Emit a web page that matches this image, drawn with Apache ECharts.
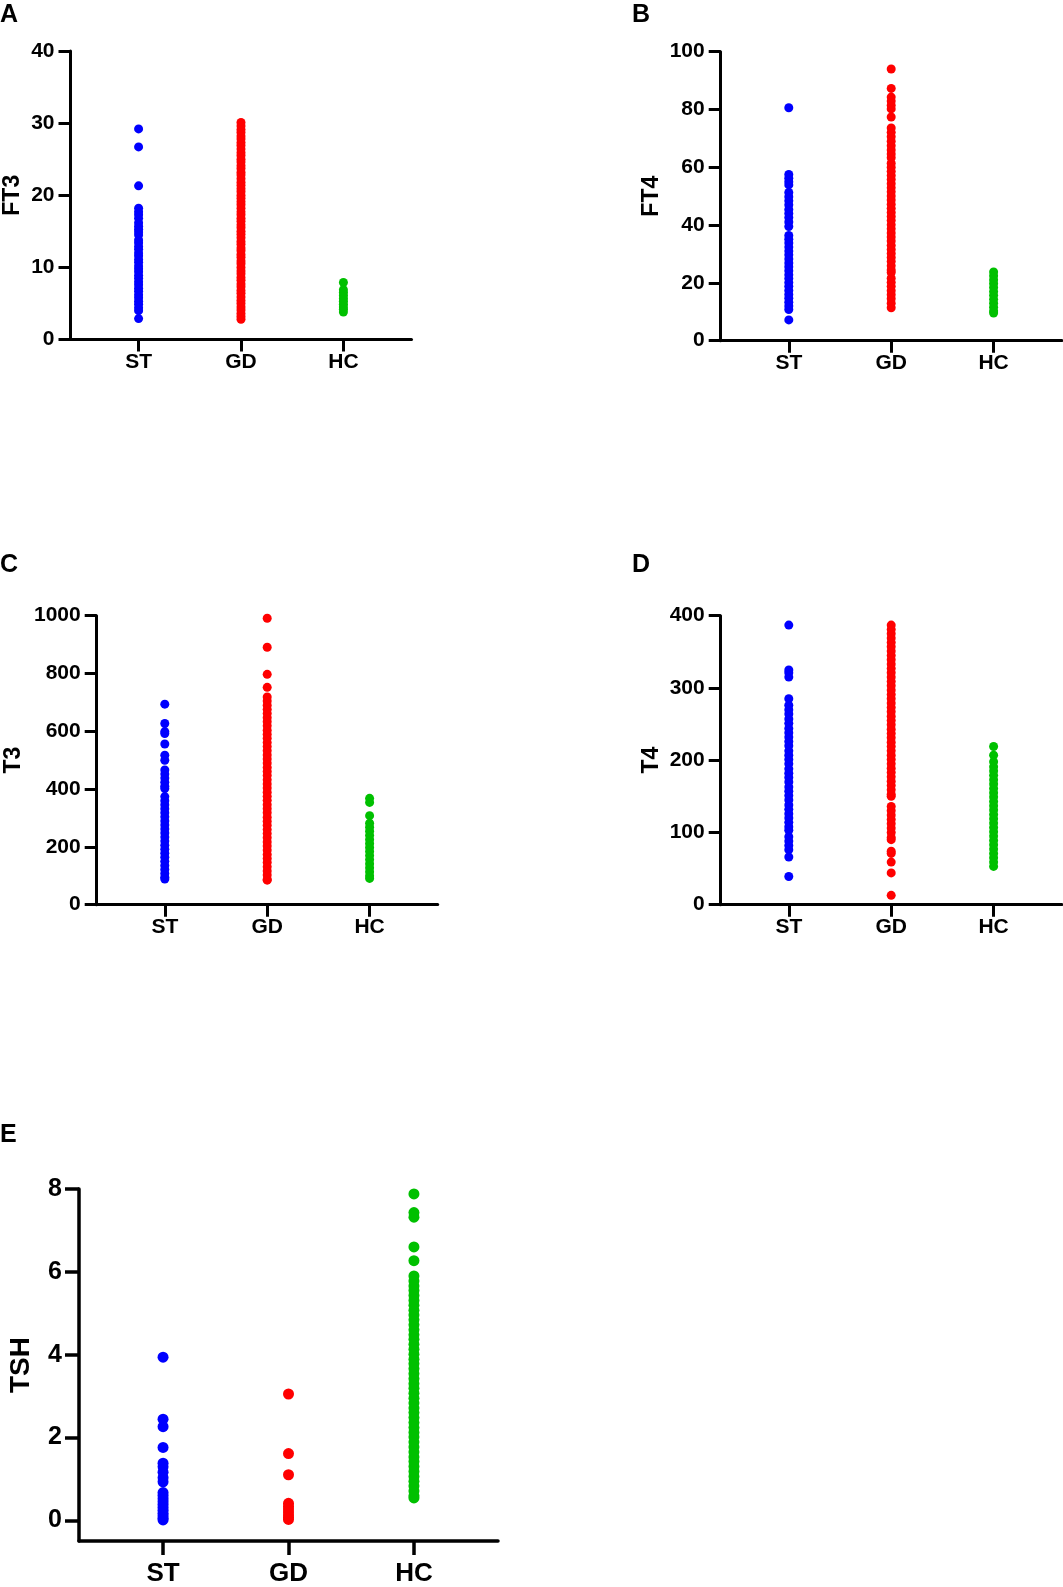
<!DOCTYPE html>
<html>
<head>
<meta charset="utf-8">
<script src="https://cdn.jsdelivr.net/npm/echarts@6/dist/echarts.min.js"></script>
<style>
  html, body { margin: 0; padding: 0; background: #fff; }
  #chart { width: 1063px; height: 1587px; }
</style>
</head>
<body>
<div id="chart"></div>
<script>
// group labels on every x axis
const groups = ['ST', 'GD', 'HC'];
const groupColors = ['#0000ff', '#ff0000', '#00c000'];

// A - FT3
const ft3ST = [29.2, 26.7, 21.3, 18.2, 17.7, 17.3, 16.8, 16.2, 15.7, 15.3, 14.9, 14.5, 13.8, 13.4, 12.9, 12.5, 12.0, 11.6, 11.1, 10.7, 10.2, 9.8, 9.4, 8.9, 8.5, 8.0, 7.6, 7.1, 6.7, 6.2, 5.8, 5.3, 4.9, 4.4, 4.0, 2.9];
const ft3GD = [30.1, 29.6, 29.1, 28.7, 28.2, 27.8, 27.3, 26.9, 26.4, 25.9, 25.5, 25.0, 24.6, 24.1, 23.7, 23.2, 22.8, 22.3, 21.8, 21.4, 20.9, 20.5, 20.0, 19.6, 19.1, 18.7, 18.2, 17.7, 17.3, 16.8, 16.4, 15.9, 15.5, 15.0, 14.6, 14.1, 13.6, 13.2, 12.7, 12.3, 11.8, 11.4, 10.9, 10.5, 10.0, 9.5, 9.1, 8.6, 8.2, 7.7, 7.3, 6.8, 6.4, 5.9, 5.4, 5.0, 4.5, 4.1, 3.6, 3.2, 2.8];
const ft3HC = [7.9, 6.9, 6.5, 6.1, 5.7, 5.3, 4.9, 4.5, 4.2, 3.8];

// B - FT4
const ft4ST = [80.6, 57.5, 56.2, 55.0, 53.9, 51.3, 49.8, 48.4, 47.0, 45.4, 44.0, 42.6, 41.1, 39.5, 36.4, 35.1, 33.8, 32.4, 31.0, 29.7, 28.3, 26.9, 25.6, 24.2, 22.8, 21.5, 20.1, 18.8, 17.4, 16.0, 14.7, 13.3, 12.0, 10.8, 7.2];
const ft4GD = [94.0, 87.3, 84.3, 82.9, 81.5, 80.2, 77.4, 73.6, 72.1, 70.6, 69.0, 67.5, 66.0, 64.6, 63.3, 61.4, 60.0, 58.6, 57.2, 55.8, 54.3, 52.9, 51.5, 50.1, 48.7, 47.2, 45.8, 44.4, 43.0, 41.6, 40.1, 38.7, 37.3, 35.9, 34.5, 33.0, 31.6, 30.2, 28.8, 27.4, 25.9, 24.5, 23.6, 21.6, 20.2, 18.8, 17.3, 15.9, 14.5, 13.0, 11.4];
const ft4HC = [23.8, 22.5, 21.1, 19.8, 18.4, 17.0, 15.7, 14.3, 13.0, 11.6, 10.3, 9.6];

// C - T3
const t3ST = [694, 627, 599, 592, 556, 517, 500, 466, 452, 438, 424, 410, 402, 374, 360, 346, 332, 318, 304, 290, 276, 262, 248, 234, 220, 206, 192, 178, 164, 150, 136, 122, 108, 95, 89];
const t3GD = [991, 891, 797, 752, 719, 705, 690, 676, 662, 647, 633, 619, 604, 590, 576, 561, 547, 533, 518, 504, 490, 475, 461, 447, 432, 418, 404, 389, 375, 361, 346, 332, 318, 303, 289, 275, 260, 246, 232, 217, 203, 189, 174, 160, 146, 131, 117, 103, 88, 85];
const t3HC = [368, 354, 308, 282, 268, 254, 240, 226, 212, 198, 184, 170, 156, 142, 128, 114, 100, 91];

// D - T4
const t4ST = [387, 325, 321, 315, 285, 276, 270, 264, 257, 251, 244, 238, 232, 226, 220, 213, 207, 201, 195, 188, 182, 176, 170, 163, 157, 151, 145, 138, 132, 126, 120, 114, 108, 103, 94, 88, 82, 76, 66, 39];
const t4GD = [387, 381, 375, 369, 363, 357, 351, 345, 339, 333, 327, 321, 315, 309, 303, 297, 291, 285, 279, 273, 267, 261, 255, 249, 243, 237, 231, 225, 219, 213, 207, 201, 195, 189, 183, 177, 171, 165, 159, 153, 150, 136, 130, 124, 118, 112, 106, 100, 93, 90, 74, 71, 59, 44, 13];
const t4HC = [219, 207, 198, 191, 185, 179, 173, 167, 161, 155, 149, 143, 137, 131, 125, 119, 113, 107, 101, 95, 89, 83, 77, 71, 65, 59, 53];

// E - TSH
const tshST = [3.94, 2.44, 2.26, 1.76, 1.38, 1.29, 1.16, 1.03, 0.93, 0.67, 0.60, 0.52, 0.45, 0.38, 0.31, 0.24, 0.17, 0.11, 0.05, 0.01];
const tshGD = [3.05, 1.61, 1.10, 0.41, 0.34, 0.27, 0.20, 0.13, 0.07, 0.02];
const tshHC = [7.88, 7.43, 7.32, 6.60, 6.27, 5.90, 5.78, 5.66, 5.55, 5.43, 5.31, 5.19, 5.07, 4.96, 4.84, 4.72, 4.60, 4.48, 4.37, 4.25, 4.13, 4.01, 3.89, 3.78, 3.66, 3.54, 3.42, 3.30, 3.19, 3.07, 2.95, 2.83, 2.71, 2.60, 2.48, 2.36, 2.24, 2.12, 2.01, 1.89, 1.77, 1.65, 1.53, 1.42, 1.30, 1.18, 1.06, 0.94, 0.83, 0.71, 0.59, 0.54];

// y tick values per panel
const ft3Ticks = [0, 10, 20, 30, 40];
const ft4Ticks = [0, 20, 40, 60, 80, 100];
const t3Ticks = [0, 200, 400, 600, 800, 1000];
const t4Ticks = [0, 100, 200, 300, 400];
const tshTicks = [0, 2, 4, 6, 8];

const FONT = '"Liberation Sans", Arial, sans-serif';

const panels = [
  { letter: 'A', name: 'FT3', sets: [ft3ST, ft3GD, ft3HC], ticks: ft3Ticks, yMin: 0, yMax: 40,
    grid: { left: 70.5, top: 51, width: 341, height: 288.5 }, letterPos: [0, 3], nameGap: 46 },
  { letter: 'B', name: 'FT4', sets: [ft4ST, ft4GD, ft4HC], ticks: ft4Ticks, yMin: 0, yMax: 100,
    grid: { left: 720.7, top: 51.7, width: 341, height: 289 }, letterPos: [632, 3], nameGap: 58 },
  { letter: 'C', name: 'T3', sets: [t3ST, t3GD, t3HC], ticks: t3Ticks, yMin: 0, yMax: 1000,
    grid: { left: 96.7, top: 615.7, width: 341, height: 289 }, letterPos: [0, 553], nameGap: 72 },
  { letter: 'D', name: 'T4', sets: [t4ST, t4GD, t4HC], ticks: t4Ticks, yMin: 0, yMax: 400,
    grid: { left: 720.7, top: 615.7, width: 341, height: 289 }, letterPos: [632, 553], nameGap: 58 },
  { letter: 'E', name: 'TSH', sets: [tshST, tshGD, tshHC], ticks: tshTicks, yMin: -0.5, yMax: 8,
    grid: { left: 79, top: 1189, width: 419, height: 354.5 }, letterPos: [0, 1123], nameGap: 44, big: true }
];

const option = {
  animation: false,
  backgroundColor: '#fff',
  title: [],
  grid: [],
  xAxis: [],
  yAxis: [],
  series: []
};

panels.forEach((p, i) => {
  const lw = p.big ? 3.5 : 3;
  const tickLen = p.big ? 14 : 12;
  const tickFont = p.big ? 25 : 21;
  const catFont = p.big ? 26 : 21;
  const nameFont = p.big ? 28 : 23;
  const lineStyle = { color: '#000', width: lw };

  option.title.push({
    text: p.letter, left: p.letterPos[0], top: p.letterPos[1], padding: 0,
    textStyle: { fontFamily: FONT, fontWeight: 'bold', fontSize: 25, color: '#000' }
  });
  option.grid.push(Object.assign({ containLabel: false }, p.grid));

  option.xAxis.push({
    type: 'value', gridIndex: i,
    min: p.big ? -0.67 : -0.665, max: p.big ? 2.67 : 2.665,
    splitLine: { show: false },
    axisLine: { onZero: false, lineStyle: lineStyle },
    axisTick: { show: true, customValues: [0, 1, 2], length: tickLen, lineStyle: lineStyle },
    axisLabel: {
      customValues: [0, 1, 2],
      formatter: v => groups[Math.round(v)] || '',
      margin: p.big ? 20 : 12,
      fontFamily: FONT, fontWeight: 'bold', fontSize: catFont, color: '#000'
    }
  });

  option.yAxis.push({
    type: 'value', gridIndex: i, min: p.yMin, max: p.yMax,
    name: p.name, nameLocation: 'middle', nameRotate: 90, nameGap: p.nameGap,
    nameTextStyle: { fontFamily: FONT, fontWeight: 'bold', fontSize: nameFont, color: '#000' },
    splitLine: { show: false },
    axisLine: { onZero: false, lineStyle: lineStyle },
    axisTick: { show: true, customValues: p.ticks, length: tickLen, lineStyle: lineStyle },
    axisLabel: {
      customValues: p.ticks, margin: p.big ? 17 : 16,
      formatter: v => String(v),
      fontFamily: FONT, fontWeight: 'bold', fontSize: tickFont, color: '#000'
    }
  });

  p.sets.forEach((vals, g) => {
    option.series.push({
      type: 'scatter', xAxisIndex: i, yAxisIndex: i,
      symbol: 'circle', symbolSize: p.big ? 11 : 9,
      itemStyle: { color: groupColors[g], opacity: 1 },
      data: vals.map(v => [g, v])
    });
  });
});

const chart = echarts.init(document.getElementById('chart'), null, { renderer: 'canvas' });
chart.setOption(option);
</script>
</body>
</html>
